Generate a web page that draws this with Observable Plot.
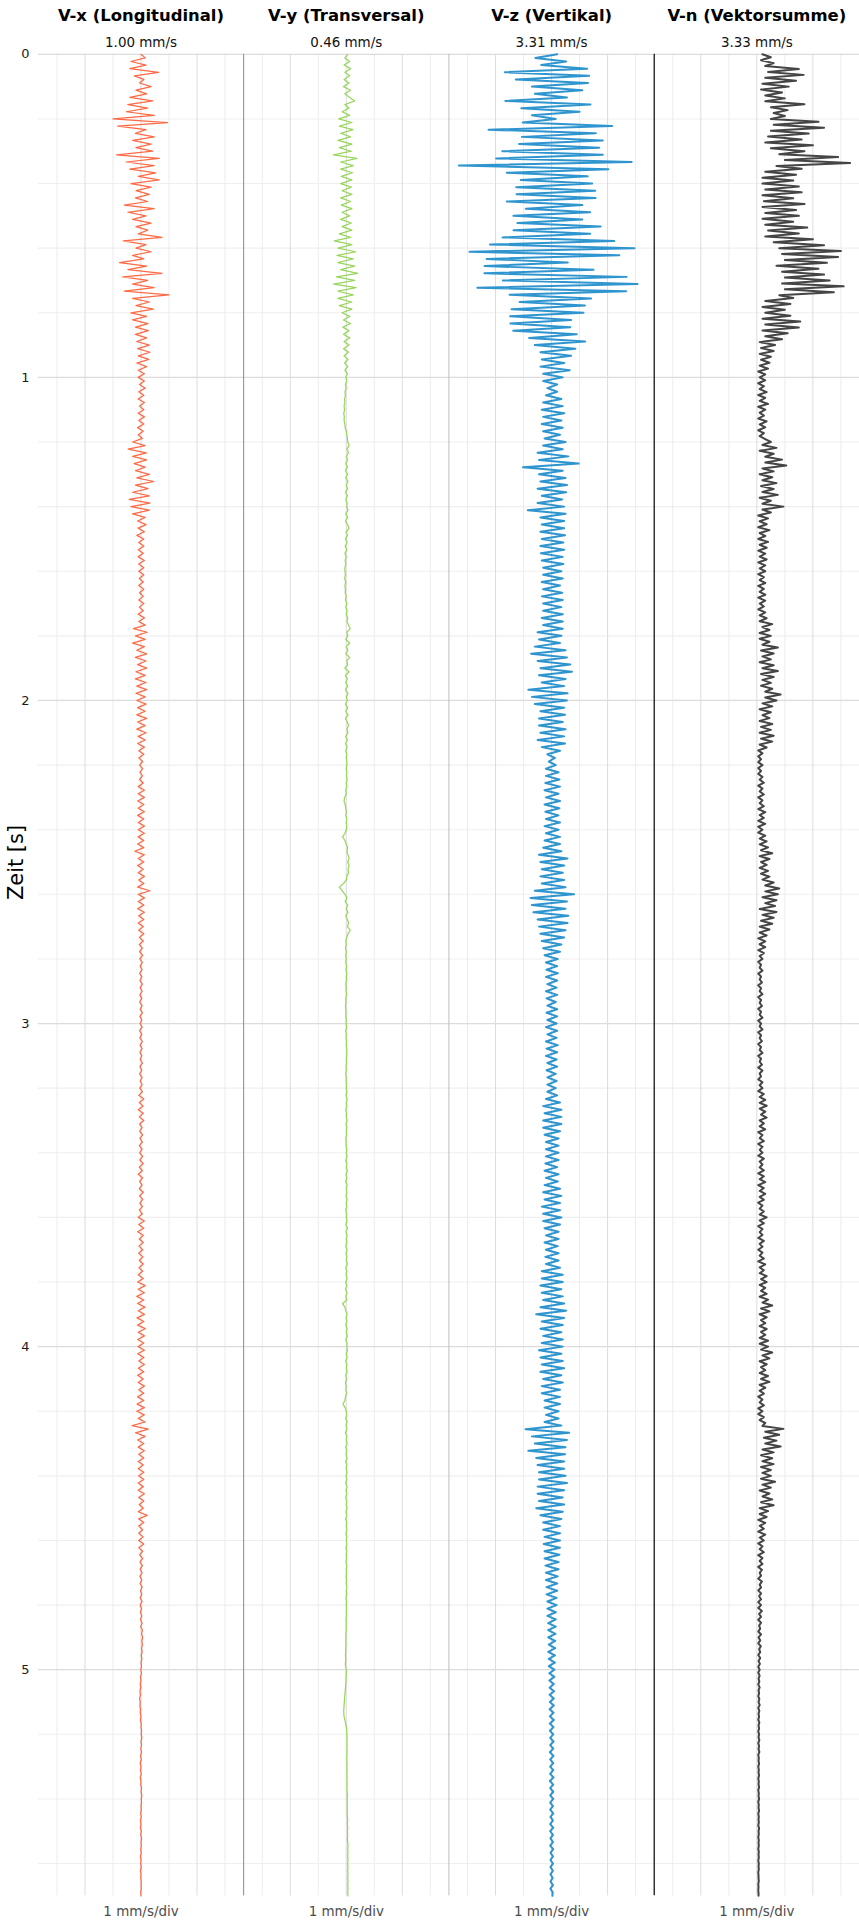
<!DOCTYPE html>
<html><head><meta charset="utf-8">
<script src="https://cdn.jsdelivr.net/npm/d3@7"></script>
<script src="https://cdn.jsdelivr.net/npm/@observablehq/plot@0.6"></script>
<style>
html,body{margin:0;padding:0;background:#fff;}
#chart{width:859px;height:1927px;overflow:hidden;}
</style></head><body><div id="chart"></div>
<script>
const channels = ["V-x (Longitudinal)", "V-y (Transversal)", "V-z (Vertikal)", "V-n (Vektorsumme)"];
const peaks = ["1.00 mm/s", "0.46 mm/s", "3.31 mm/s", "3.33 mm/s"];
const scaleLabel = "1 mm/s/div";
const axisTitle = "Zeit [s]";
const timeTicks = [0, 1, 2, 3, 4, 5];
const timeMinor = [0.2,0.4,0.6,0.8,1.2,1.4,1.6,1.8,2.2,2.4,2.6,2.8,3.2,3.4,3.6,3.8,4.2,4.4,4.6,4.8,5.2,5.4,5.6];
const ampMajor = [-2, 0, 2];
const ampMinor = [-3, -1, 1, 3];
const xLimit = 3.665;
const duration = 5.7;

const vx = [
0.0,0.15,-0.36,0.18,-0.4,0.63,-0.24,0.1,-0.05,0.36,-0.18,0.2,-0.4,0.42,-0.47,0.24,-0.53,0.47,
-1.0,0.95,-0.83,0.18,-0.2,0.47,-0.3,0.36,-0.18,0.42,-0.87,0.65,-0.53,0.47,-0.4,0.53,-0.1,0.65,
-0.36,0.36,-0.18,0.3,-0.2,0.24,-0.6,0.47,-0.47,0.18,-0.3,0.36,-0.18,0.24,-0.1,0.75,-0.63,0.18,
-0.18,0.36,-0.3,0.1,-0.77,0.2,-0.47,0.75,-0.65,0.24,-0.3,0.47,-0.6,1.0,-0.3,0.3,-0.18,0.44,
-0.36,0.2,-0.3,0.25,-0.2,0.26,-0.2,0.2,-0.15,0.3,-0.12,0.32,-0.1,0.28,-0.15,0.2,-0.1,0.12,
-0.1,0.12,-0.05,0.15,-0.08,0.1,-0.1,0.12,-0.05,0.1,-0.1,0.12,-0.08,0.1,-0.12,0.08,-0.1,0.05,
-0.3,0.15,-0.46,0.19,-0.3,0.2,-0.25,0.15,-0.2,0.3,-0.15,0.46,-0.2,0.25,-0.3,0.3,-0.42,0.32,
-0.36,0.3,-0.3,0.15,-0.12,0.18,-0.1,0.12,-0.15,0.1,-0.08,0.1,-0.1,0.08,-0.1,0.12,-0.08,0.1,
-0.08,0.1,-0.06,0.08,-0.08,0.1,-0.05,0.08,-0.08,0.1,-0.06,0.08,-0.1,0.12,-0.08,0.15,-0.27,0.22,
-0.2,0.15,-0.3,0.12,-0.15,0.2,-0.2,0.18,-0.12,0.2,-0.18,0.15,-0.2,0.18,-0.15,0.2,-0.18,0.15,
-0.15,0.18,-0.12,0.15,-0.15,0.2,-0.12,0.15,-0.15,0.18,-0.1,0.15,-0.12,0.12,-0.08,0.1,-0.08,0.06,
-0.05,0.06,-0.04,0.05,-0.05,0.08,-0.1,0.12,-0.1,0.12,-0.12,0.1,-0.1,0.12,-0.12,0.1,-0.1,0.12,
-0.1,0.12,-0.1,0.1,-0.12,0.1,-0.22,0.12,-0.1,0.1,-0.12,0.08,-0.1,0.12,-0.08,0.1,-0.12,0.32,
-0.1,0.12,-0.1,0.1,-0.12,0.12,-0.08,0.1,-0.1,0.08,-0.08,0.1,-0.06,0.08,-0.06,0.05,-0.05,0.06,
-0.04,0.05,-0.03,0.04,-0.05,0.03,-0.04,0.05,-0.03,0.04,-0.04,0.03,-0.05,0.04,-0.03,0.05,-0.04,0.03,
-0.03,0.04,-0.05,0.03,-0.04,0.05,-0.03,0.04,-0.04,0.03,-0.03,0.05,-0.04,0.03,-0.05,0.04,-0.03,0.04,
-0.04,0.05,-0.08,0.1,-0.06,0.08,-0.1,0.08,-0.06,0.1,-0.05,0.04,-0.05,0.06,-0.04,0.05,-0.06,0.04,
-0.05,0.06,-0.04,0.08,-0.06,0.05,-0.1,0.06,-0.05,0.04,-0.06,0.08,-0.05,0.06,-0.04,0.05,-0.06,0.05,
-0.1,0.12,-0.08,0.1,-0.12,0.08,-0.06,0.08,-0.07,0.06,-0.08,0.07,-0.06,0.08,-0.07,0.06,-0.1,0.08,
-0.12,0.15,-0.1,0.12,-0.15,0.1,-0.12,0.14,-0.1,0.12,-0.14,0.1,-0.12,0.15,-0.1,0.12,-0.12,0.1,
-0.1,0.12,-0.12,0.1,-0.08,0.12,-0.1,0.1,-0.12,0.08,-0.1,0.12,-0.08,0.1,-0.12,0.1,-0.14,0.12,
-0.15,0.12,-0.1,0.15,-0.32,0.26,-0.2,0.15,-0.12,0.1,-0.1,0.12,-0.08,0.1,-0.1,0.08,-0.1,0.1,
-0.08,0.1,-0.1,0.08,-0.1,0.12,-0.08,0.1,-0.06,0.08,-0.1,0.22,-0.08,0.1,-0.08,0.06,-0.08,0.08,
-0.08,0.1,-0.08,0.06,-0.05,0.06,-0.04,0.05,-0.03,0.04,-0.04,0.03,-0.03,0.04,-0.02,0.03,-0.03,0.04,
-0.03,0.02,-0.02,0.03,-0.02,0.04,-0.01,0.05,0.02,0.06,0.03,0.05,0.02,0.04,0.01,0.03,0.0,0.02,
-0.01,0.02,-0.02,0.0,-0.03,-0.01,-0.04,-0.02,-0.05,-0.03,-0.04,-0.02,-0.03,0.0,-0.02,0.01,0.0,0.02,
0.01,0.03,0.0,0.02,-0.01,0.02,-0.02,0.01,-0.03,0.0,-0.02,0.01,-0.03,0.0,-0.01,0.02,0.0,0.03,
0.01,0.02,0.0,0.01,-0.01,0.01,-0.02,0.0,-0.02,0.01,-0.01,0.02,0.0,0.01,-0.01,0.01,-0.02,0.0,
-0.01,0.01,-0.02,0.0,-0.01,0.01,0.0,0.01,-0.01,0.0
];

const vy = [
0.05,-0.05,0.12,-0.08,0.15,-0.05,0.12,-0.08,0.1,-0.1,0.15,-0.05,0.12,0.3,-0.05,0.1,-0.15,0.12,
-0.27,0.2,-0.25,0.24,-0.2,0.15,-0.3,0.2,-0.25,0.18,-0.46,0.38,-0.2,0.25,-0.2,0.22,-0.18,0.2,
-0.2,0.18,-0.15,0.2,-0.2,0.15,-0.18,0.2,-0.15,0.12,-0.2,0.18,-0.15,0.2,-0.25,0.15,-0.43,0.2,
-0.3,0.34,-0.33,0.25,-0.3,0.3,-0.2,0.41,-0.35,0.3,-0.45,0.35,-0.3,0.25,-0.3,0.2,-0.25,0.2,
-0.15,0.12,-0.1,0.15,-0.12,0.1,-0.1,0.12,-0.08,0.1,-0.1,0.08,-0.08,0.06,-0.06,0.05,-0.05,0.04,
-0.02,0.02,-0.03,0.0,-0.05,-0.03,-0.06,-0.05,-0.08,-0.06,-0.09,-0.07,-0.08,-0.05,-0.04,0.0,0.02,0.04,
0.05,0.1,0.02,0.08,0.0,0.05,-0.02,0.04,-0.03,0.05,-0.02,0.06,0.0,0.05,-0.03,0.04,-0.02,0.03,
0.02,0.06,-0.02,0.05,-0.03,0.04,0.1,0.0,0.04,-0.03,0.03,-0.04,0.02,-0.05,0.0,-0.04,-0.02,-0.05,
-0.05,-0.03,-0.06,-0.02,-0.05,-0.03,-0.04,0.0,-0.03,0.02,-0.02,0.03,0.0,0.05,0.02,0.08,0.14,0.02,
0.05,-0.02,0.12,0.0,0.06,-0.02,0.12,0.02,0.05,-0.05,0.1,-0.03,0.04,-0.02,0.05,-0.03,0.06,0.0,
0.04,-0.03,0.05,-0.02,0.06,-0.03,0.04,0.08,0.02,0.06,-0.02,0.04,-0.03,0.03,-0.02,0.02,0.0,0.02,
0.02,0.0,0.02,0.01,0.03,0.0,0.02,-0.02,0.0,-0.06,-0.08,-0.04,-0.02,0.0,-0.02,0.02,0.0,0.02,
0.0,-0.05,-0.13,-0.05,0.0,0.05,0.02,0.06,0.1,0.05,0.1,0.06,0.08,0.02,0.0,-0.1,-0.25,-0.15,
-0.05,0.02,-0.04,0.05,0.0,0.06,-0.02,0.04,0.08,0.04,0.14,0.06,0.02,-0.02,0.0,-0.03,0.0,-0.02,
0.0,-0.02,0.01,-0.01,0.02,0.0,0.01,-0.02,0.0,-0.01,0.01,-0.02,-0.01,-0.03,-0.02,-0.01,-0.02,0.0,
-0.01,0.01,-0.02,0.0,-0.01,0.01,0.0,0.02,0.01,0.02,0.0,0.01,-0.01,0.0,-0.02,0.0,-0.01,0.01,
0.0,0.02,-0.01,0.03,0.0,0.02,-0.02,0.01,0.0,0.03,-0.01,0.02,0.0,0.01,-0.02,0.0,-0.01,0.02,
0.0,0.03,-0.02,0.02,0.0,0.04,-0.01,0.02,-0.02,0.03,0.0,0.02,-0.01,0.03,0.0,0.02,-0.02,0.01,
0.0,0.03,-0.02,0.04,-0.01,0.03,0.0,0.02,-0.02,0.03,-0.01,0.02,0.0,0.04,-0.02,0.02,-0.01,0.03,
-0.02,0.02,-0.03,0.03,-0.02,0.02,-0.13,-0.05,-0.02,0.03,-0.01,0.02,-0.02,0.03,0.0,0.04,-0.02,0.03,
0.02,0.04,0.0,0.03,-0.02,0.02,0.0,0.03,-0.02,0.01,-0.03,0.0,-0.02,0.01,-0.03,-0.05,-0.12,-0.04,
0.0,0.02,-0.02,0.03,-0.01,0.02,-0.03,0.02,0.0,0.03,-0.02,0.02,-0.01,0.03,-0.02,0.02,0.0,0.03,
-0.01,0.02,-0.02,0.03,-0.01,0.02,-0.02,0.02,0.0,0.03,-0.01,0.02,-0.02,0.02,0.0,0.02,-0.01,0.02,
0.0,0.02,-0.01,0.02,0.0,0.01,-0.01,0.02,0.0,0.01,-0.01,0.01,0.0,0.02,0.0,0.01,-0.01,0.01,
0.0,0.01,0.0,0.01,-0.01,0.0,-0.01,0.0,-0.02,-0.01,-0.02,-0.01,-0.02,-0.02,-0.03,-0.02,-0.03,-0.03,
0.0,0.0,-0.01,-0.01,-0.02,-0.03,-0.04,-0.05,-0.06,-0.07,-0.08,-0.09,-0.09,-0.08,-0.05,-0.02,0.0,0.02,
0.02,0.03,0.02,0.03,0.02,0.03,0.02,0.02,0.03,0.02,0.03,0.02,0.03,0.02,0.03,0.02,0.03,0.04,
0.03,0.04,0.03,0.04,0.03,0.04,0.05,0.04,0.05,0.04,0.05,0.04,0.05,0.06,0.05,0.06,0.05,0.06,
0.05,0.06,0.05,0.06,0.05,0.06,0.05,0.06,0.05,0.06
];

const vz = [
0.2,-0.58,0.52,-0.37,1.27,-1.67,1.34,-1.28,1.3,-0.7,1.1,-0.6,0.55,-1.65,1.39,-1.08,1.0,-0.7,
0.15,-1.03,2.16,-2.25,1.58,-1.06,1.83,-1.16,1.7,-1.76,1.83,-1.98,2.86,-3.31,2.03,-1.6,1.29,-1.1,
1.45,-1.26,1.56,-1.25,1.57,-1.6,1.1,-0.92,1.38,-1.36,1.1,-1.22,1.75,-1.36,1.38,-1.75,2.24,-2.2,
2.96,-2.93,2.42,-2.32,0.58,-2.39,1.5,-2.4,2.68,-1.74,3.07,-2.65,2.66,-1.5,1.41,-1.14,1.19,-1.43,
1.14,-1.48,0.7,-1.47,0.67,-1.37,0.9,-0.8,1.2,-0.6,0.85,-0.4,0.7,-0.35,0.45,-0.4,0.65,-0.3,
0.4,-0.3,0.2,-0.15,0.2,-0.2,0.35,-0.3,0.4,-0.35,0.45,-0.3,0.35,-0.35,0.4,-0.3,0.3,-0.25,
0.5,-0.3,0.4,-0.5,0.6,-0.45,0.97,-1.02,0.4,-0.45,0.5,-0.4,0.55,-0.5,0.52,-0.35,0.38,-0.5,
0.45,-0.85,0.5,-0.4,0.45,-0.35,0.45,-0.4,0.48,-0.35,0.42,-0.4,0.45,-0.38,0.4,-0.35,0.42,-0.3,
0.35,-0.3,0.4,-0.35,0.3,-0.3,0.38,-0.35,0.4,-0.3,0.35,-0.3,0.4,-0.35,0.4,-0.3,0.4,-0.5,
0.35,-0.45,0.3,-0.6,0.5,-0.73,0.55,-0.5,0.67,-0.4,0.73,-0.45,0.5,-0.35,0.45,-0.83,0.57,-0.7,
0.55,-0.6,0.45,-0.4,0.48,-0.45,0.4,-0.45,0.5,-0.4,0.45,-0.5,0.48,-0.35,0.3,-0.15,0.12,-0.1,
0.15,-0.2,0.25,-0.2,0.28,-0.22,0.3,-0.25,0.25,-0.2,0.3,-0.25,0.28,-0.22,0.25,-0.2,0.3,-0.25,
0.25,-0.2,0.3,-0.25,0.3,-0.3,0.35,-0.45,0.57,-0.4,0.45,-0.35,0.4,-0.4,0.45,-0.35,0.5,-0.6,
0.8,-0.75,0.55,-0.7,0.5,-0.65,0.6,-0.5,0.57,-0.45,0.5,-0.4,0.45,-0.35,0.35,-0.3,0.3,-0.25,
0.22,-0.2,0.2,-0.18,0.22,-0.2,0.2,-0.15,0.18,-0.2,0.2,-0.18,0.15,-0.15,0.2,-0.18,0.2,-0.15,
0.18,-0.2,0.2,-0.15,0.18,-0.2,0.22,-0.18,0.2,-0.2,0.18,-0.15,0.2,-0.18,0.15,-0.15,0.18,-0.15,
0.15,-0.15,0.2,-0.2,0.3,-0.3,0.35,-0.25,0.35,-0.3,0.35,-0.3,0.3,-0.25,0.25,-0.2,0.25,-0.2,
0.25,-0.2,0.25,-0.22,0.2,-0.25,0.25,-0.2,0.22,-0.25,0.3,-0.3,0.35,-0.25,0.3,-0.35,0.3,-0.3,
0.35,-0.3,0.3,-0.25,0.25,-0.2,0.25,-0.25,0.22,-0.2,0.25,-0.22,0.25,-0.2,0.3,-0.35,0.4,-0.35,
0.4,-0.4,0.35,-0.35,0.4,-0.3,0.45,-0.4,0.52,-0.55,0.45,-0.35,0.4,-0.4,0.35,-0.3,0.4,-0.35,
0.4,-0.45,0.35,-0.4,0.4,-0.35,0.45,-0.4,0.35,-0.3,0.4,-0.35,0.3,-0.35,0.3,-0.25,0.3,-0.25,
0.25,-0.2,0.25,-0.25,0.35,-0.93,0.63,-0.7,0.55,-0.6,0.5,-0.83,0.48,-0.55,0.45,-0.5,0.45,-0.45,
0.5,-0.45,0.55,-0.5,0.45,-0.5,0.4,-0.45,0.45,-0.55,0.4,-0.4,0.35,-0.3,0.3,-0.3,0.3,-0.25,
0.3,-0.28,0.3,-0.25,0.28,-0.25,0.25,-0.22,0.25,-0.2,0.22,-0.2,0.2,-0.18,0.2,-0.18,0.18,-0.15,
0.18,-0.15,0.15,-0.15,0.15,-0.12,0.15,-0.12,0.14,-0.12,0.13,-0.1,0.13,-0.12,0.12,-0.1,0.12,-0.1,
0.1,-0.08,0.1,-0.08,0.08,-0.07,0.09,-0.07,0.08,-0.06,0.08,-0.07,0.07,-0.06,0.08,-0.06,0.07,-0.06,
0.06,-0.05,0.07,-0.05,0.06,-0.06,0.07,-0.05,0.06,-0.05,0.06,-0.05,0.07,-0.06,0.06,-0.05,0.06,-0.05,
0.06,-0.05,0.05,-0.05,0.06,-0.04,0.05,-0.05,0.06,-0.05,0.05,-0.04,0.05,-0.05,0.06,-0.04,0.05,-0.04,
0.05,-0.04,0.05,-0.04,0.04,-0.04,0.05,-0.04,0.04,0.03
];

const vn = [
0.2,0.5,0.15,0.6,0.3,1.5,0.4,1.67,0.3,1.4,0.2,1.14,0.15,0.9,0.3,1.0,0.3,1.7,0.5,1.1,0.6,1.0,
0.5,2.2,0.6,2.4,0.5,1.85,0.4,1.6,0.3,2.0,0.5,1.7,0.8,2.9,1.0,3.33,0.7,1.6,0.3,1.4,0.2,1.3,
0.2,1.5,0.3,1.6,0.2,1.3,0.25,1.7,0.2,1.4,0.3,1.5,0.2,1.3,0.3,1.8,0.4,1.5,0.3,2.0,0.6,2.4,
0.8,3.0,0.9,2.9,1.0,2.5,0.7,2.2,0.9,2.4,1.0,2.6,0.9,3.1,1.0,2.75,0.8,1.3,0.3,1.2,0.2,1.0,
0.3,1.2,0.2,1.55,0.3,1.5,0.2,1.1,0.3,0.9,0.1,0.65,0.15,0.6,0.1,0.5,0.15,0.45,0.1,0.4,0.05,0.3,
0.1,0.3,0.05,0.25,0.1,0.35,0.05,0.3,0.1,0.4,0.05,0.3,0.1,0.25,0.05,0.35,0.1,0.3,0.05,0.25,0.1,0.3,
0.5,0.2,0.7,0.1,0.6,0.3,0.9,0.3,1.05,0.2,0.6,0.1,0.55,0.2,0.7,0.15,0.6,0.2,0.75,0.1,0.5,0.2,
0.95,0.2,0.5,0.05,0.4,0.1,0.35,0.05,0.45,0.1,0.3,0.05,0.4,0.1,0.35,0.05,0.3,0.1,0.35,0.05,0.3,0.1,
0.3,0.05,0.25,0.1,0.3,0.05,0.25,0.1,0.3,0.05,0.3,0.1,0.25,0.05,0.3,0.1,0.35,0.1,0.55,0.2,0.45,0.1,
0.5,0.1,0.45,0.2,0.75,0.15,0.6,0.2,0.5,0.1,0.6,0.2,0.75,0.15,0.6,0.2,0.5,0.15,0.55,0.3,0.85,0.3,
0.7,0.2,0.55,0.1,0.5,0.2,0.45,0.1,0.55,0.15,0.5,0.1,0.6,0.15,0.55,0.1,0.35,0.05,0.2,0.05,0.15,0.05,
0.2,0.05,0.15,0.05,0.2,0.1,0.25,0.05,0.2,0.1,0.25,0.05,0.2,0.1,0.25,0.05,0.3,0.1,0.25,0.05,0.3,0.05,
0.2,0.05,0.3,0.1,0.35,0.1,0.4,0.15,0.55,0.1,0.45,0.15,0.35,0.1,0.4,0.15,0.45,0.2,0.6,0.3,0.8,0.3,
0.75,0.2,0.7,0.3,0.65,0.1,0.7,0.2,0.6,0.15,0.55,0.1,0.45,0.1,0.35,0.05,0.3,0.1,0.3,0.05,0.25,0.1,
0.2,0.05,0.15,0.1,0.2,0.05,0.15,0.1,0.18,0.05,0.15,0.1,0.2,0.05,0.15,0.1,0.18,0.05,0.15,0.1,0.2,0.05,
0.15,0.1,0.2,0.05,0.15,0.1,0.18,0.05,0.15,0.1,0.2,0.05,0.15,0.1,0.18,0.05,0.2,0.1,0.15,0.05,0.2,0.1,
0.2,0.05,0.25,0.1,0.3,0.1,0.35,0.1,0.3,0.15,0.35,0.1,0.25,0.1,0.3,0.05,0.2,0.1,0.25,0.05,0.2,0.1,
0.2,0.05,0.25,0.1,0.2,0.1,0.25,0.05,0.25,0.1,0.3,0.05,0.25,0.1,0.3,0.1,0.25,0.05,0.2,0.1,0.25,0.1,
0.35,0.1,0.25,0.05,0.2,0.1,0.2,0.05,0.25,0.1,0.2,0.05,0.2,0.1,0.25,0.05,0.3,0.1,0.25,0.1,0.35,0.15,
0.35,0.1,0.3,0.15,0.35,0.1,0.4,0.2,0.55,0.15,0.45,0.1,0.35,0.15,0.3,0.1,0.35,0.15,0.3,0.1,0.4,0.1,
0.4,0.15,0.55,0.2,0.45,0.1,0.35,0.15,0.3,0.1,0.4,0.15,0.45,0.1,0.3,0.1,0.25,0.05,0.2,0.1,0.25,0.05,
0.2,0.05,0.25,0.1,0.3,0.2,0.95,0.3,0.8,0.25,0.7,0.3,0.85,0.2,0.6,0.15,0.55,0.2,0.6,0.15,0.5,0.2,
0.5,0.15,0.65,0.2,0.5,0.1,0.45,0.2,0.55,0.15,0.6,0.1,0.4,0.1,0.35,0.05,0.3,0.1,0.25,0.05,0.3,0.1,
0.25,0.05,0.2,0.1,0.25,0.05,0.2,0.1,0.2,0.05,0.18,0.1,0.15,0.05,0.18,0.1,0.15,0.05,0.15,0.08,0.15,0.05,
0.15,0.05,0.18,0.08,0.15,0.05,0.15,0.08,0.12,0.05,0.15,0.06,0.12,0.05,0.14,0.08,0.12,0.05,0.12,0.06,0.11,0.05,
0.1,0.05,0.1,0.06,0.09,0.05,0.1,0.06,0.08,0.05,0.09,0.06,0.1,0.05,0.09,0.06,0.08,0.05,0.09,0.06,0.08,0.05,
0.08,0.06,0.09,0.05,0.08,0.06,0.09,0.05,0.07,0.06,0.08,0.05,0.07,0.06,0.08,0.05,0.07,0.06,0.08,0.05,0.07,0.06,
0.08,0.05,0.07,0.06,0.08,0.05,0.07,0.06,0.07,0.05,0.08,0.06,0.07,0.05,0.07,0.06,0.07,0.05,0.07,0.06,0.07,0.05,
0.07,0.06,0.07,0.05,0.06,0.06,0.07,0.05,0.06,0.05,0.06,0.06
];

const traces = [
  {name: channels[0], values: vx, color: "#fd6a45", width: 1.25},
  {name: channels[1], values: vy, color: "#98d65b", width: 1.25},
  {name: channels[2], values: vz, color: "#2f95cf", width: 2.0},
  {name: channels[3], values: vn, color: "#454545", width: 2.0}
];
const separators = [
  {name: channels[1], color: "#8a8a8a", width: 1},
  {name: channels[2], color: "#bdbdbd", width: 1},
  {name: channels[3], color: "#000000", width: 1.2}
];

const lineMarks = traces.map(tr => {
  const n = tr.values.length;
  const rows = tr.values.map((v, i) => ({ch: tr.name, t: i * duration / (n - 1), v}));
  return Plot.line(rows, {x: "v", y: "t", fx: "ch", stroke: tr.color, strokeWidth: tr.width, strokeLinejoin: "round"});
});

const font = "DejaVu Sans";
const chart = Plot.plot({
  width: 862, height: 1927,
  marginTop: 54, marginBottom: 25, marginLeft: 38, marginRight: 0,
  style: {fontFamily: font, background: "#fff", overflow: "visible"},
  fx: {domain: channels, padding: 0, axis: null},
  x: {domain: [-xLimit, xLimit], axis: null},
  y: {domain: [0, duration], reverse: true, axis: null},
  marks: [
    Plot.ruleY(timeMinor, {stroke: "#efefef", strokeWidth: 1.1}),
    Plot.ruleX(ampMinor, {stroke: "#ececec", strokeWidth: 1}),
    Plot.ruleX(ampMajor, {stroke: "#dcdcdc", strokeWidth: 1}),
    Plot.ruleY(timeTicks, {stroke: "#dcdcdc", strokeWidth: 1.3}),
    Plot.ruleX(separators, {fx: "name", x: () => -xLimit, stroke: "color", strokeWidth: "width"}),
    ...lineMarks,
    Plot.axisY(timeTicks, {anchor: "left", tickSize: 0, tickPadding: 9, fontSize: 13, label: null, fill: "#1a1a1a", tickFormat: d => String(d)}),
    Plot.text(channels, {fx: d => d, text: d => d, frameAnchor: "top", lineAnchor: "middle", dy: -39, fontSize: 16.5, fontWeight: "bold", fill: "#000"}),
    Plot.text(channels, {fx: d => d, text: (d, i) => peaks[i], frameAnchor: "top", lineAnchor: "middle", dy: -12, fontSize: 13.5, fill: "#111"}),
    Plot.text(channels, {fx: d => d, text: () => scaleLabel, frameAnchor: "bottom", lineAnchor: "middle", dy: 16, fontSize: 13.5, fill: "#4d4d4d"}),
    Plot.text([axisTitle], {fx: () => channels[0], text: d => d, frameAnchor: "left", textAnchor: "middle", lineAnchor: "middle", rotate: -90, dx: -22, dy: -113, fontSize: 21, fill: "#000"})
  ]
});
document.getElementById("chart").appendChild(chart);
</script>
</body></html>
